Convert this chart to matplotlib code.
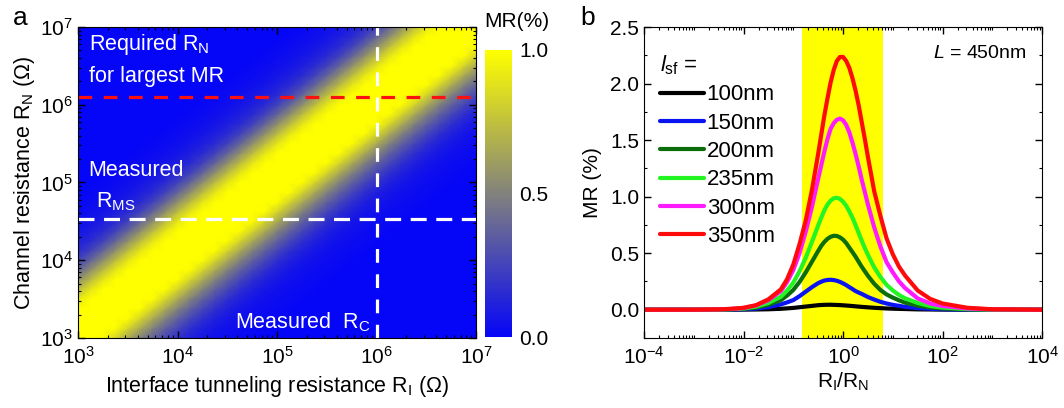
import numpy as np
import matplotlib

matplotlib.use("Agg")
import matplotlib.pyplot as plt
from matplotlib.colors import LinearSegmentedColormap, Normalize
from matplotlib.ticker import FixedLocator, LogLocator, MultipleLocator, NullFormatter
import matplotlib.cm as cm

plt.rcParams["font.family"] = ["Liberation Sans", "DejaVu Sans"]
plt.rcParams["mathtext.fontset"] = "custom"
plt.rcParams["mathtext.rm"] = "Liberation Sans"
plt.rcParams["mathtext.it"] = "Liberation Sans:italic"
plt.rcParams["mathtext.bf"] = "Liberation Sans:bold"
plt.rcParams["mathtext.default"] = "regular"

# ---- panel a: MR map over (R_I, R_N), MR depends on log10(R_I / R_N) ----
map_step = 0.125  # decades per grid node
map_log_r = np.arange(3.0, 7.0 + map_step / 2, map_step)
# MR (%) vs log10(R_I/R_N) from -2 to +2 in 0.125 steps (zero outside)
map_profile_core = [0.0, 0.007, 0.015, 0.025, 0.04, 0.065, 0.10, 0.15, 0.24,
                    0.38, 0.55, 0.73, 0.90, 1.05, 1.17, 1.24, 1.22, 1.13,
                    0.99, 0.83, 0.66, 0.50, 0.37, 0.26, 0.17, 0.11, 0.07,
                    0.045, 0.03, 0.02, 0.01, 0.005, 0.0]
rn_required = 1.25e6
rn_measured = 3.4e4
rc_measured = 1.0e6

# ---- panel b: MR vs R_I/R_N for several spin-flip lengths ----
log_ratio = [-4, -3, -2.5, -2.25, -2, -1.75, -1.5, -1.25, -1.125, -1.0,
             -0.875, -0.75, -0.625, -0.5, -0.4375, -0.375, -0.3125, -0.25, -0.1875, -0.125,
             -0.0625, 0, 0.0625, 0.125, 0.1875, 0.25, 0.3125, 0.375, 0.4375, 0.5,
             0.625, 0.75, 0.875, 1.0, 1.125, 1.25, 1.5, 1.75, 2.0, 2.5, 3, 4]
lsf_labels = ["100nm", "150nm", "200nm", "235nm", "300nm", "350nm"]
lsf_colors = ["#000000", "#0a14f0", "#0b6e0b", "#22f522", "#ff1aff", "#ff0a0a"]
mr_100 = [0, 0, 0, 0.0005, 0.001, 0.002, 0.004, 0.008, 0.012, 0.016,
          0.022, 0.028, 0.034, 0.040, 0.042, 0.043, 0.044, 0.044, 0.043, 0.042,
          0.041, 0.039, 0.037, 0.035, 0.0325, 0.030, 0.0275, 0.025, 0.023, 0.021,
          0.017, 0.014, 0.011, 0.009, 0.0075, 0.006, 0.003, 0.002, 0.001, 0, 0, 0]
mr_150 = [0, 0, 0.001, 0.002, 0.004, 0.010, 0.023, 0.047, 0.065, 0.085,
          0.12, 0.16, 0.20, 0.235, 0.248, 0.258, 0.263, 0.265, 0.262, 0.256,
          0.246, 0.233, 0.218, 0.20, 0.183, 0.165, 0.152, 0.14, 0.126, 0.112,
          0.09, 0.07, 0.055, 0.043, 0.034, 0.025, 0.014, 0.008, 0.004, 0.001, 0, 0]
mr_200 = [0, 0.0005, 0.002, 0.004, 0.008, 0.019, 0.044, 0.085, 0.125, 0.175,
          0.245, 0.33, 0.425, 0.52, 0.565, 0.60, 0.627, 0.645, 0.654, 0.652,
          0.64, 0.62, 0.59, 0.55, 0.51, 0.47, 0.425, 0.38, 0.34, 0.30,
          0.23, 0.175, 0.135, 0.107, 0.083, 0.062, 0.036, 0.020, 0.011, 0.0035, 0.001, 0]
mr_235 = [0, 0.0005, 0.002, 0.005, 0.011, 0.027, 0.06, 0.115, 0.17, 0.24,
          0.34, 0.46, 0.60, 0.745, 0.815, 0.88, 0.93, 0.965, 0.985, 0.99,
          0.98, 0.955, 0.92, 0.87, 0.815, 0.75, 0.68, 0.61, 0.545, 0.485,
          0.375, 0.29, 0.22, 0.17, 0.13, 0.10, 0.06, 0.033, 0.019, 0.006, 0.0015, 0]
mr_300 = [0, 0.0005, 0.003, 0.007, 0.015, 0.037, 0.084, 0.165, 0.245, 0.35,
          0.50, 0.69, 0.91, 1.16, 1.28, 1.40, 1.51, 1.60, 1.65, 1.68,
          1.69, 1.675, 1.635, 1.57, 1.48, 1.38, 1.27, 1.15, 1.04, 0.93,
          0.73, 0.56, 0.42, 0.33, 0.25, 0.19, 0.10, 0.055, 0.033, 0.011, 0.003, 0]
mr_350 = [0, 0.0005, 0.003, 0.008, 0.017, 0.040, 0.092, 0.18, 0.27, 0.40,
          0.58, 0.79, 1.06, 1.38, 1.55, 1.72, 1.87, 2.01, 2.12, 2.20,
          2.235, 2.235, 2.20, 2.14, 2.05, 1.94, 1.81, 1.66, 1.51, 1.35,
          1.05, 0.83, 0.63, 0.49, 0.38, 0.30, 0.17, 0.096, 0.055, 0.017, 0.004, 0]
mr_series = [mr_100, mr_150, mr_200, mr_235, mr_300, mr_350]
band_lo, band_hi = 0.15, 6.3

cmap = LinearSegmentedColormap.from_list("blue_yellow", ["#0505f8", "#ffff00"])

fig = plt.figure(figsize=(10.64, 4.08), dpi=100)
ax_a = fig.add_axes([0.0733, 0.1716, 0.3741, 0.7622])
cax = fig.add_axes([0.4558, 0.174, 0.0254, 0.7035])
ax_b = fig.add_axes([0.6053, 0.1716, 0.3741, 0.7622])

# build the map: each node takes the profile value at its log-ratio offset
n_pad = int(round(4.0 / map_step)) - (len(map_profile_core) - 1) // 2
profile = np.pad(np.array(map_profile_core), n_pad)
idx = np.arange(len(map_log_r))
offset = (idx[None, :] - idx[:, None]) + (len(profile) - 1) // 2
mr_map = profile[offset]
RI, RN = np.meshgrid(10 ** map_log_r, 10 ** map_log_r)
norm = Normalize(vmin=0.0, vmax=1.0)
ax_a.pcolormesh(RI, RN, mr_map, cmap=cmap, norm=norm, shading="gouraud",
                rasterized=True)
ax_a.set_xscale("log")
ax_a.set_yscale("log")
ax_a.set_xlim(1e3, 1e7)
ax_a.set_ylim(1e3, 1e7)

ax_a.axhline(rn_required, color="#ff1010", lw=2.3, dashes=(4.3, 3.6))
ax_a.axhline(rn_measured, color="white", lw=2.3, dashes=(5.0, 3.0))
ax_a.axvline(rc_measured, color="white", lw=2.3, dashes=(4.3, 3.6))

txt = dict(color="white", fontsize=15.5, transform=ax_a.transAxes, va="center")
ax_a.text(0.027, 0.945, "Required R$_{N}$", **txt)
ax_a.text(0.027, 0.842, "for largest MR", **txt)
ax_a.text(0.027, 0.540, "Measured", **txt)
ax_a.text(0.045, 0.438, "R$_{MS}$", **txt)
ax_a.text(0.395, 0.050, "Measured  R$_{C}$", **txt)

ax_a.set_xlabel("Interface tunneling resistance R$_{I}$ (Ω)", fontsize=15.5, labelpad=4)
ax_a.set_ylabel("Channel resistance R$_{N}$ (Ω)", fontsize=15.5, labelpad=2)
for axis in (ax_a.xaxis, ax_a.yaxis):
    axis.set_major_locator(LogLocator(base=10, numticks=10))
    axis.set_minor_locator(LogLocator(base=10, subs=np.arange(2, 10), numticks=50))
    axis.set_minor_formatter(NullFormatter())
ax_a.tick_params(which="both", direction="in", top=True, right=True,
                 labelsize=15, color="black")
ax_a.tick_params(which="major", length=5, width=1)
ax_a.tick_params(which="minor", length=2.5, width=0.8)
ax_a.tick_params(axis="x", pad=6)

cb = fig.colorbar(cm.ScalarMappable(norm=norm, cmap=cmap), cax=cax)
cb.set_ticks([0.0, 0.5, 1.0])
cb.set_ticklabels(["0.0", "0.5", "1.0"])
cb.outline.set_visible(False)
cax.tick_params(length=0, labelsize=15, pad=5)
fig.text(0.455, 0.925, "MR(%)", fontsize=15, ha="left", va="bottom")

# ---- panel b ----
ratio = 10.0 ** np.array(log_ratio)
ax_b.axvspan(band_lo, band_hi, color="#ffff00", lw=0, zorder=0)
for label, color, mr in zip(lsf_labels, lsf_colors, mr_series):
    ax_b.plot(ratio, mr, color=color, lw=3.0, label=label,
              solid_capstyle="round", solid_joinstyle="round")
ax_b.set_xscale("log")
ax_b.set_xlim(1e-4, 1e4)
ax_b.set_ylim(-0.25, 2.5)
ax_b.xaxis.set_major_locator(FixedLocator([1e-4, 1e-2, 1e0, 1e2, 1e4]))
ax_b.xaxis.set_minor_locator(LogLocator(base=10, subs=np.arange(1, 10), numticks=100))
ax_b.xaxis.set_minor_formatter(NullFormatter())
ax_b.yaxis.set_major_locator(MultipleLocator(0.5))
ax_b.yaxis.set_minor_locator(MultipleLocator(0.25))
ax_b.yaxis.set_major_formatter(plt.FuncFormatter(lambda v, _: f"{v:.1f}"))
ax_b.tick_params(which="both", direction="in", top=True, right=True, labelsize=15)
ax_b.tick_params(which="major", length=5, width=1)
ax_b.tick_params(which="minor", length=2.5, width=0.8)
ax_b.tick_params(axis="x", pad=6)
ax_b.set_xlabel("R$_{I}$/R$_{N}$", fontsize=15, labelpad=2)
ax_b.set_ylabel("MR (%)", fontsize=15, labelpad=6)
ax_b.text(0.96, 0.915, "$\\mathit{L}$ = 450nm", transform=ax_b.transAxes,
          ha="right", va="center", fontsize=14)

leg = ax_b.legend(loc="upper left", bbox_to_anchor=(0.0, 0.965), frameon=False,
                  fontsize=16, title="$\\mathit{l}_{sf}$ =", title_fontsize=16,
                  handlelength=2.0, handletextpad=0.12, labelspacing=0.33,
                  borderaxespad=0.3, alignment="left")

fig.text(0.012, 0.955, "a", fontsize=19, ha="left", va="center")
fig.text(0.545, 0.955, "b", fontsize=19, ha="left", va="center")

fig.savefig("out.png", dpi=100)
